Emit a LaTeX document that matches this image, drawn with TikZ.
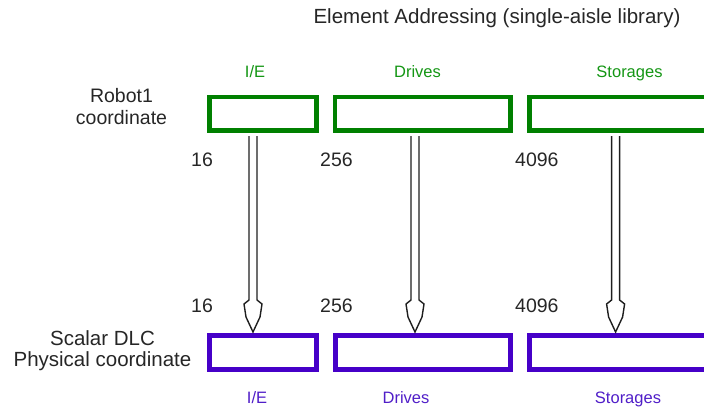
\documentclass[tikz,border=0pt]{standalone}
\usepackage{fontspec}
\setmainfont{Liberation Sans}
\usetikzlibrary{calc}

\definecolor{boxgreen}{RGB}{0,128,0}
\definecolor{labgreen}{RGB}{20,150,20}
\definecolor{boxpurple}{RGB}{70,0,200}
\definecolor{labpurple}{RGB}{80,30,200}
\definecolor{shaftgray}{RGB}{30,30,30}

% hollow downward arrow: #1 = top of the shaft, #2 = tip (same x)
\newcommand\hollowarrow[2]{%
  \draw[shaftline] ($(#1)+(-4,0)$) -- ($(#2)+(-4,-32)$) -- ($(#2)+(-9,-28)$)
    -- ($(#2)+(-7,-15)$) -- (#2) -- ($(#2)+(7,-15)$) -- ($(#2)+(9,-28)$)
    -- ($(#2)+(4,-32)$) -- ($(#1)+(4,0)$);}

\begin{document}
\begin{tikzpicture}[x=1pt,y=-1pt,
  robotbox/.style={draw=boxgreen, line width=4.6pt, minimum height=33.5pt,
    inner sep=0pt, outer sep=0pt},
  dlcbox/.style={draw=boxpurple, line width=5pt, minimum height=33.5pt,
    inner sep=0pt, outer sep=0pt},
  shaftline/.style={draw=shaftgray, line width=1.4pt, line join=miter},
  toplabel/.style={text=labgreen, font=\fontsize{16.5}{19}\selectfont,
    inner sep=0pt, anchor=base},
  botlabel/.style={text=labpurple, font=\fontsize{16.5}{19}\selectfont,
    inner sep=0pt, anchor=base},
  numlabel/.style={font=\fontsize{19.5}{22}\selectfont, inner sep=0pt,
    anchor=base west, text=black!85},
  sidelabel/.style={inner sep=0pt, align=center, anchor=base, text=black!85},
]
\useasboundingbox (0,0) rectangle (704,410);
\clip (0,0) rectangle (704,410);

% title
\node[font=\fontsize{20.5}{24}\selectfont, inner sep=0pt, anchor=base,
  text=black!85] (title) at (497,23.5) {Element Addressing (single-aisle library)};

% row of robot coordinate boxes
\node[robotbox, minimum width=107pt] (r1) at (263,113.75) {};
\node[robotbox, minimum width=175.4pt] (r2) at (422.7,113.75) {};
\node[robotbox, minimum width=200pt, anchor=west] (r3) at (529.6,113.75) {};

% row of physical coordinate boxes
\node[dlcbox, minimum width=107pt] (d1) at (263,352.25) {};
\node[dlcbox, minimum width=175.4pt] (d2) at (422.7,352.25) {};
\node[dlcbox, minimum width=200pt, anchor=west] (d3) at (529.6,352.25) {};

% section labels
\node[toplabel] (tie) at (255,77.7) {I/E};
\node[toplabel] (tdr) at (417.5,77.7) {Drives};
\node[toplabel] (tst) at (629.5,77.7) {Storages};
\node[botlabel] (bie) at (257,403.5) {I/E};
\node[botlabel] (bdr) at (406,403.5) {Drives};
\node[botlabel] (bst) at (628,403.5) {Storages};

% start addresses
\node[numlabel] (n1) at (191,166.7) {16};
\node[numlabel] (n2) at (320,166.7) {256};
\node[numlabel] (n3) at (515,166.7) {4096};
\node[numlabel] (m1) at (191,312) {16};
\node[numlabel] (m2) at (320,312) {256};
\node[numlabel] (m3) at (515,312) {4096};

% row captions (anchored at the baseline of the last line)
\node[sidelabel, font=\fontsize{19.5}{22}\selectfont] (robot) at (121.5,124)
  {Robot1\\[0pt]coordinate};
\node[sidelabel, font=\fontsize{20.5}{21.7}\selectfont] (dlc) at (102.5,366.7)
  {Scalar DLC\\[0pt]Physical coordinate};

% mapping arrows
\coordinate (a1) at ($(r1.south)+(-10,5.5)$);
\coordinate (b1) at ($(d1.north)+(-10,-3.5)$);
\coordinate (a2) at ($(r2.south)+(-7.7,5.5)$);
\coordinate (b2) at ($(d2.north)+(-7.7,-3.5)$);
\coordinate (a3) at ($(r3.south)+(-14,5.5)$);
\coordinate (b3) at ($(d3.north)+(-14,-3.5)$);
\hollowarrow{a1}{b1}
\hollowarrow{a2}{b2}
\hollowarrow{a3}{b3}
\end{tikzpicture}
\end{document}
